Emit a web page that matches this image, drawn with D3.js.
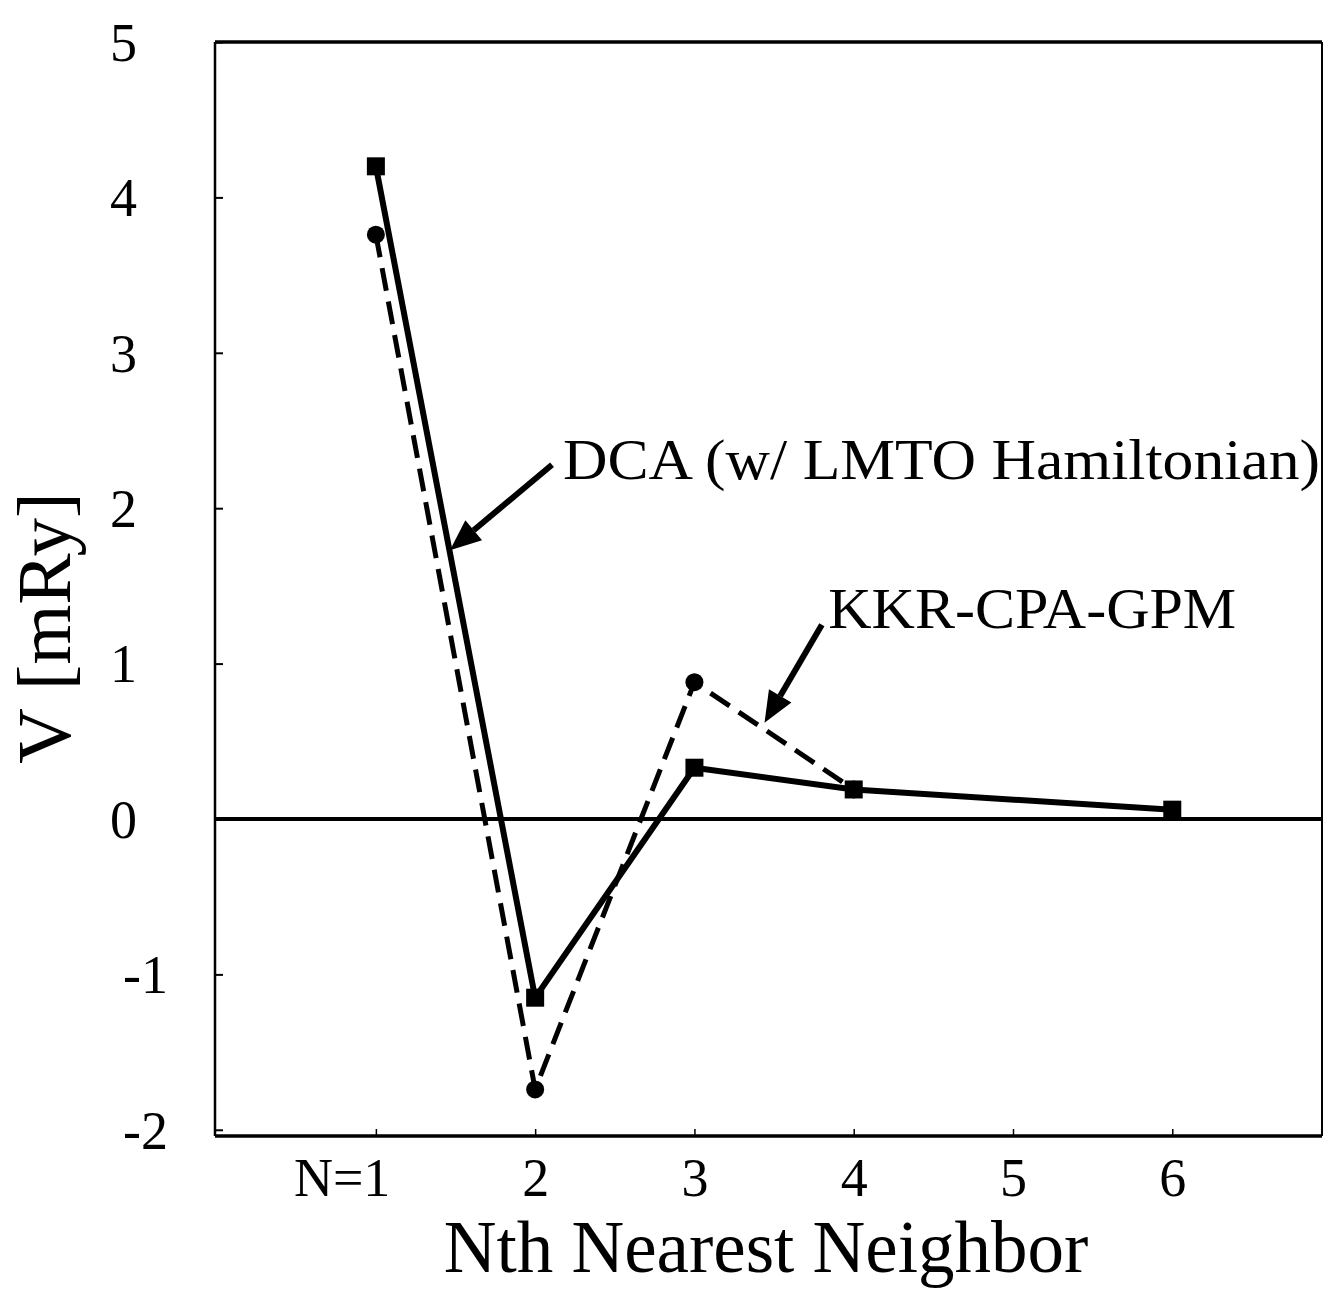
<!DOCTYPE html>
<html>
<head>
<meta charset="utf-8">
<script src="https://cdn.jsdelivr.net/npm/d3@7"></script>
<style>
  html, body { margin: 0; padding: 0; background: #fff; }
  svg { display: block; }
  text { font-family: "Liberation Serif", "Times New Roman", serif; fill: #000; }
</style>
</head>
<body>
<div id="container"></div>
<script>
// values
const neighbors = [1, 2, 3, 4, 6]
const dcaValues = [4.20, -1.15, 0.33, 0.19, 0.06]
const kkrNeighbors = [1, 2, 3, 4]
const kkrValues = [3.76, -1.74, 0.88, 0.19]
const xTicks = [1, 2, 3, 4, 5, 6]
const yTicks = [-2, -1, 0, 1, 2, 3, 4, 5]
const seriesNames = ['DCA (w/ LMTO Hamiltonian)', 'KKR-CPA-GPM']

const width = 1324
const height = 1290
const frame = {left: 215, top: 42, right: 1322, bottom: 1136}

const xScale = d3.scaleLinear()
    .domain([-0.01, 6.94])
    .range([frame.left, frame.right])

const yScale = d3.scaleLinear()
    .domain([-2.04, 5])
    .range([frame.bottom, frame.top])

const svg = d3.select('#container').append('svg')
    .attr('width', width)
    .attr('height', height)

// frame: heavier top/bottom, thinner sides
svg.append('line')
    .attr('x1', frame.left).attr('x2', frame.right)
    .attr('y1', frame.top).attr('y2', frame.top)
    .attr('stroke', '#000').attr('stroke-width', 3.5)
svg.append('line')
    .attr('x1', frame.right).attr('x2', frame.right)
    .attr('y1', frame.top).attr('y2', frame.bottom)
    .attr('stroke', '#000').attr('stroke-width', 2)

// axes
const xAxis = d3.axisBottom(xScale).tickValues(xTicks).tickSize(-7).tickPadding(0)
    .tickFormat(d => d === 1 ? 'N=1' : String(d))
const yAxis = d3.axisLeft(yScale).tickValues(yTicks).tickSize(-8).tickPadding(0)
    .tickFormat(d => String(d))

const gx = svg.append('g')
    .attr('transform', `translate(0, ${frame.bottom})`)
    .call(xAxis)
gx.select('.domain').remove()
gx.selectAll('line').attr('stroke-width', 1.5)
gx.selectAll('text')
    .attr('font-size', 54)
    .attr('y', 60)
    .attr('dy', 0)
    .attr('text-anchor', d => d === 1 ? 'end' : 'middle')
    .attr('dx', d => d === 1 ? 14 : 0)

const gy = svg.append('g')
    .attr('transform', `translate(${frame.left}, 0)`)
    .call(yAxis)
gy.select('.domain').remove()
gy.selectAll('line').attr('stroke-width', 2)
gy.selectAll('text')
    .attr('font-size', 54)
    .attr('dy', '0.34em')
    .attr('x', d => d < 0 ? -47 : -78)
    .attr('text-anchor', 'end')

svg.append('line')
    .attr('x1', frame.left).attr('x2', frame.left)
    .attr('y1', frame.top).attr('y2', frame.bottom)
    .attr('stroke', '#000').attr('stroke-width', 2.5)
svg.append('line')
    .attr('x1', frame.left).attr('x2', frame.right)
    .attr('y1', frame.bottom).attr('y2', frame.bottom)
    .attr('stroke', '#000').attr('stroke-width', 3.5)

// zero line
svg.append('line')
    .attr('x1', frame.left).attr('x2', frame.right)
    .attr('y1', yScale(0)).attr('y2', yScale(0))
    .attr('stroke', '#000').attr('stroke-width', 4)

const line = d3.line().x(d => xScale(d[0])).y(d => yScale(d[1]))

const kkr = kkrNeighbors.map((n, i) => [n, kkrValues[i]])
const dca = neighbors.map((n, i) => [n, dcaValues[i]])

svg.append('path')
    .datum(kkr)
    .attr('d', line)
    .attr('fill', 'none')
    .attr('stroke', '#000')
    .attr('stroke-width', 5)
    .attr('stroke-dasharray', '23,11')

svg.selectAll('circle.kkr')
    .data(kkr)
    .enter()
    .append('circle')
    .attr('class', 'kkr')
    .attr('cx', d => xScale(d[0]))
    .attr('cy', d => yScale(d[1]))
    .attr('r', 9)
    .attr('fill', '#000')

svg.append('path')
    .datum(dca)
    .attr('d', line)
    .attr('fill', 'none')
    .attr('stroke', '#000')
    .attr('stroke-width', 6)
    .attr('stroke-linejoin', 'miter')

svg.selectAll('rect.dca')
    .data(dca)
    .enter()
    .append('rect')
    .attr('class', 'dca')
    .attr('x', d => xScale(d[0]) - 9)
    .attr('y', d => yScale(d[1]) - 9)
    .attr('width', 18)
    .attr('height', 18)
    .attr('fill', '#000')

// annotations, in data units
const labelAnchors = [
    {text: seriesNames[0], x: 2.175, y: 2.19, len: 757, tail: [2.106, 2.28], tip: [1.465, 1.73]},
    {text: seriesNames[1], x: 3.84, y: 1.23, len: 408, tail: [3.80, 1.25], tip: [3.44, 0.62]}
]

labelAnchors.forEach(a => {
    svg.append('text')
        .attr('x', xScale(a.x))
        .attr('y', yScale(a.y))
        .attr('font-size', 57)
        .attr('textLength', a.len)
        .attr('lengthAdjust', 'spacingAndGlyphs')
        .text(a.text)

    const x0 = xScale(a.tail[0]), y0 = yScale(a.tail[1])
    const x1 = xScale(a.tip[0]), y1 = yScale(a.tip[1])
    const ang = Math.atan2(y1 - y0, x1 - x0)
    const headLen = 31, headW = 13
    const bx = x1 - headLen * Math.cos(ang), by = y1 - headLen * Math.sin(ang)
    svg.append('line')
        .attr('x1', x0).attr('y1', y0)
        .attr('x2', bx).attr('y2', by)
        .attr('stroke', '#000').attr('stroke-width', 6)
    const px = -Math.sin(ang) * headW, py = Math.cos(ang) * headW
    svg.append('path')
        .attr('d', `M${x1},${y1}L${bx + px},${by + py}L${bx - px},${by - py}Z`)
        .attr('fill', '#000')
})

// axis titles
svg.append('text')
    .attr('x', 766)
    .attr('y', 1272)
    .attr('text-anchor', 'middle')
    .attr('font-size', 73)
    .text('Nth Nearest Neighbor')

svg.append('text')
    .attr('transform', 'translate(70, 628) rotate(-90)')
    .attr('text-anchor', 'middle')
    .attr('font-size', 77)
    .text('V [mRy]')
</script>
</body>
</html>
